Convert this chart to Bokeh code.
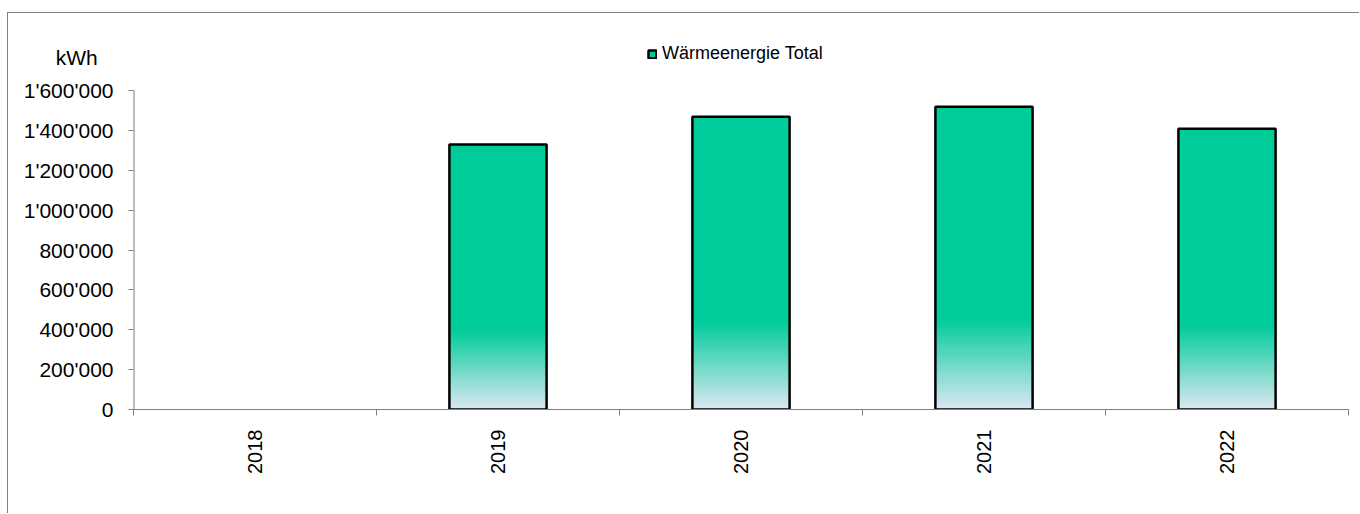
from bokeh.plotting import figure
from bokeh.models import (Range1d, FixedTicker, Legend, LegendItem,
                          ColumnDataSource)
from bokeh.embed import file_html
from bokeh.resources import INLINE
import math

# ---- data ----
years = ["2018", "2019", "2020", "2021", "2022"]
heat_total = [0, 1329000, 1468000, 1518000, 1408000]
series_name = "Wärmeenergie Total"
unit_label = "kWh"
y_ticks = [0, 200000, 400000, 600000, 800000, 1000000, 1200000, 1400000, 1600000]
y_tick_labels = ["0", "200'000", "400'000", "600'000", "800'000",
                 "1'000'000", "1'200'000", "1'400'000", "1'600'000"]

FONT = "Liberation Sans"
TOP_COLOR = (0, 204, 153)
BOTTOM_COLOR = (220, 231, 242)
GRAD_FRAC = 0.30
N_SLICES = 40
BAR_W = 0.40

# frame: y=0 at 409px, 1'600'000 at 90px, frame top at 30px (room for legend / unit)
Y_MAX = y_ticks[-1]
Y_END = Y_MAX * (409 - 30) / (409 - 90)
UNIT_POS = Y_MAX * (409 - 57) / (409 - 90)

p = figure(width=1352, height=501, output_backend="svg", toolbar_location=None,
           x_range=Range1d(0, len(years)), y_range=Range1d(0, Y_END),
           min_border_left=125, min_border_right=12, min_border_top=17,
           min_border_bottom=105, margin=(12, 0, 0, 7))
p.styles = {"border-left": "1px solid #7f7f7f", "border-top": "1px solid #7f7f7f"}
p.outline_line_color = None
p.xgrid.visible = False
p.ygrid.visible = False
p.background_fill_color = "white"
p.border_fill_color = "white"

def hexc(c):
    return "#%02x%02x%02x" % c

# solid upper part of every bar
idx = [i for i, v in enumerate(heat_total) if v > 0]
solid = ColumnDataSource(dict(left=[i + 0.5 - BAR_W / 2 for i in idx],
                              right=[i + 0.5 + BAR_W / 2 for i in idx],
                              bottom=[heat_total[i] * GRAD_FRAC for i in idx],
                              top=[heat_total[i] for i in idx]))
solid_r = p.quad(left="left", right="right", bottom="bottom", top="top", source=solid,
                 fill_color=hexc(TOP_COLOR), line_color=None)

# gradient lower part built from overlapping slices
L, R, B, T, C = [], [], [], [], []
for i in idx:
    v = heat_total[i]
    cx = i + 0.5
    g = v * GRAD_FRAC
    step = g / N_SLICES
    for k in range(N_SLICES):
        f = (k + 0.5) / N_SLICES
        col = tuple(int(round(BOTTOM_COLOR[j] + (TOP_COLOR[j] - BOTTOM_COLOR[j]) * f)) for j in range(3))
        L.append(cx - BAR_W / 2); R.append(cx + BAR_W / 2)
        B.append(step * k); T.append(step * (k + 1) + step * 0.8); C.append(hexc(col))
src = ColumnDataSource(dict(left=L, right=R, bottom=B, top=T, color=C))
p.quad(left="left", right="right", bottom="bottom", top="top", source=src,
       fill_color="color", line_color=None)

# bar outlines
osrc = ColumnDataSource(dict(left=[i + 0.5 - BAR_W / 2 for i in idx],
                             right=[i + 0.5 + BAR_W / 2 for i in idx],
                             top=[heat_total[i] for i in idx]))
outline_r = p.quad(left="left", right="right", bottom=0, top="top", source=osrc,
                   fill_color=None, line_color="black", line_width=2.5)

# y axis line only up to the last tick (half of a 2px line at the frame edge)
p.segment(x0=[0], y0=[0], x1=[0], y1=[Y_MAX], line_color="#7f7f7f", line_width=2)

# legend
legend = Legend(items=[LegendItem(label=series_name, renderers=[solid_r, outline_r])],
                location=(514, 345), orientation="horizontal",
                border_line_color=None, background_fill_alpha=0,
                padding=0, margin=0, spacing=0, glyph_width=10, glyph_height=10,
                label_standoff=5, label_text_font=FONT, label_text_font_size="18px",
                label_text_color="black", label_height=20)
p.add_layout(legend, "center")

# axes
xa = p.xaxis[0]
xa.ticker = FixedTicker(ticks=[i + 0.5 for i in range(len(years))],
                        minor_ticks=list(range(len(years) + 1)))
xa.major_label_overrides = {i + 0.5: y for i, y in enumerate(years)}
xa.major_label_orientation = math.pi / 2
xa.major_tick_line_color = None
xa.minor_tick_in = 0
xa.minor_tick_out = 6
xa.minor_tick_line_color = "#7f7f7f"
xa.axis_line_color = "#7f7f7f"
xa.major_label_text_font = FONT
xa.major_label_text_font_size = "20px"
xa.major_label_text_color = "black"
xa.major_label_standoff = 14

ya = p.yaxis[0]
ya.ticker = FixedTicker(ticks=y_ticks + [UNIT_POS], minor_ticks=y_ticks)
overrides = {t: s for t, s in zip(y_ticks, y_tick_labels)}
overrides[UNIT_POS] = unit_label + "\u00a0" * 2 + "\u2009"
ya.major_label_overrides = overrides
ya.major_tick_line_color = None
ya.minor_tick_in = 0
ya.minor_tick_out = 5
ya.minor_tick_line_color = "#7f7f7f"
ya.axis_line_color = None
ya.major_label_text_font = FONT
ya.major_label_text_font_size = "21px"
ya.major_label_text_color = "black"
ya.major_label_standoff = 14

open("out.html", "w").write(file_html(p, INLINE))
